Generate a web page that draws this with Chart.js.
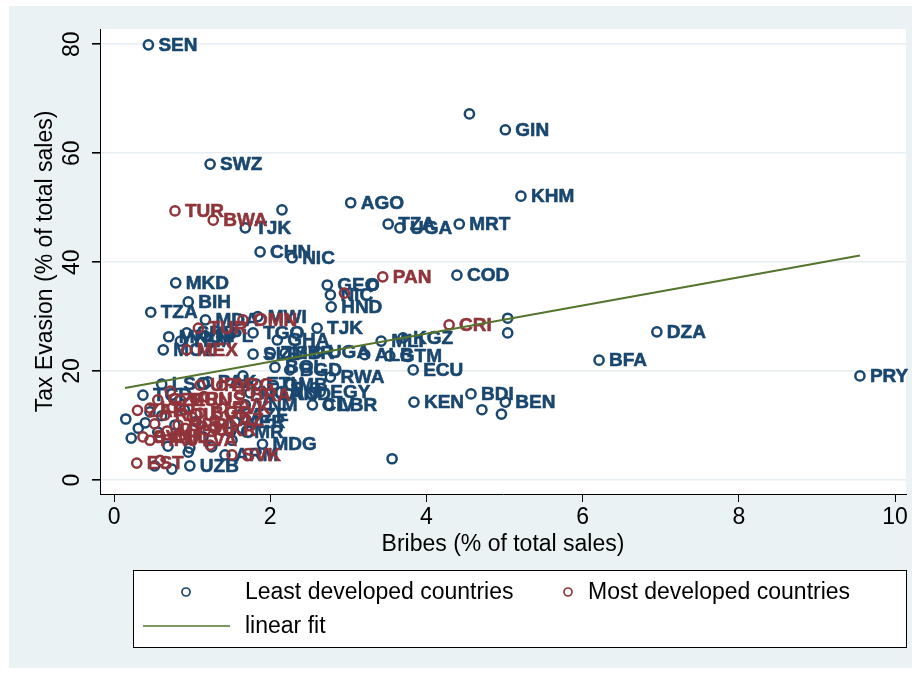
<!DOCTYPE html>
<html>
<head>
<meta charset="utf-8">
<script src="https://cdn.jsdelivr.net/npm/chart.js@4.4.0/dist/chart.umd.min.js"></script>
<style>
  html, body { margin: 0; padding: 0; background: #ffffff; }
  #wrap { width: 920px; height: 675px; }
</style>
</head>
<body>
<div id="wrap"><canvas id="chart" width="920" height="675"></canvas></div>
<script>
// Least developed countries: bribes vs tax evasion (% of total sales)
const ldcX = [0.44, 4.55, 5.01, 1.23, 5.21, 3.03, 2.15, 1.68, 3.51, 3.66,
              4.42, 1.87, 2.28, 4.39, 0.79, 2.73, 3.32, 2.77, 2.78, 2.60,
              0.95, 0.47, 5.04, 5.04, 6.95, 6.21, 9.55, 3.70, 3.42, 3.21,
              3.53, 3.83, 2.61, 2.77, 3.84, 4.57, 5.01, 4.71, 4.96, 3.56,
              1.90, 1.42, 0.97, 0.61, 1.17, 1.84, 0.70, 0.85, 0.93, 1.17,
              1.78, 2.09, 0.63, 1.78, 2.00, 2.19, 2.06, 2.25, 1.65, 1.82,
              2.04, 2.57, 2.64, 1.74, 1.99, 2.23, 1.68, 2.54, 2.74, 1.55,
              1.49, 0.15, 0.22, 0.37, 0.31, 0.40, 0.46, 0.56, 0.61, 0.69,
              0.78, 0.90, 0.97, 1.05, 1.14, 1.25, 1.38, 1.51, 1.64, 0.52,
              0.74, 0.95, 1.20, 1.62];
const ldcY = [79.9, 67.2, 64.3, 58.0, 52.1, 50.9, 49.6, 46.3, 47.0, 46.3,
              47.0, 41.9, 40.8, 37.6, 36.2, 35.8, 35.8, 34.0, 31.8, 27.9,
              32.7, 30.8, 29.7, 27.0, 27.2, 22.0, 19.1, 26.1, 25.5, 23.0,
              22.8, 20.2, 23.5, 18.9, 14.3, 15.8, 14.3, 12.9, 12.1, 3.9,
              6.6, 4.6, 2.6, 17.6, 29.4, 30.0, 26.3, 25.5, 27.0, 26.4,
              27.0, 25.7, 23.9, 23.1, 23.3, 23.3, 20.7, 20.2, 19.1, 17.6,
              17.4, 16.9, 16.2, 16.0, 15.8, 15.8, 13.8, 13.8, 13.8, 10.7,
              8.8, 11.2, 7.7, 15.6, 9.5, 10.5, 12.5, 8.8, 11.8, 6.2,
              10.1, 12.9, 5.9, 10.7, 7.9, 6.1, 9.2, 7.3, 9.5, 2.6,
              2.0, 5.1, 18.0, 12.0];
const ldcLab = ["SEN", "", "GIN", "SWZ", "KHM", "AGO", "", "TJK", "TZA", "UGA",
                "MRT", "CHN", "NIC", "COD", "MKD", "GEO", "", "NIC", "HND", "TJK",
                "BIH", "TZA", "", "", "DZA", "BFA", "PRY", "KGZ", "MLI", "ALB",
                "GTM", "ECU", "UGA", "RWA", "KEN", "BDI", "BEN", "", "", "",
                "MDG", "ARM", "UZB", "LSO", "MDA", "MWI", "MNG", "YEM", "SRB", "NPL",
                "TGO", "GHA", "MOZ", "SLE", "ZMB", "SYR", "BOL", "BGD", "", "ETH",
                "GMB", "", "EGY", "NGA", "LAO", "IND", "VNM", "CIV", "LBR", "NER",
                "CMR", "", "", "TCD", "", "", "", "", "", "",
                "", "", "", "", "", "", "", "", "", "",
                "", "", "PAK", "AZE"];

// Most developed countries
const mdcX = [0.78, 1.27, 3.44, 2.95, 4.29, 1.65, 1.08, 0.93, 1.38, 1.04,
              1.38, 0.91, 1.00, 0.29, 1.51, 0.46, 0.56, 0.85, 0.46, 0.65,
              1.10, 1.29, 0.82, 1.17, 0.37, 0.59, 1.23, 0.59, 1.61, 1.10,
              0.72, 0.30, 1.51, 0.68, 1.00, 0.75, 1.15, 0.52];
const mdcY = [49.4, 47.7, 37.3, 34.3, 28.5, 29.4, 27.9, 23.9, 17.4, 14.9,
              13.2, 9.5, 7.3, 3.1, 4.6, 7.3, 14.7, 14.7, 13.2, 11.9,
              12.3, 11.0, 10.1, 9.2, 7.9, 7.9, 6.4, 3.6, 15.6, 17.4,
              16.3, 12.8, 12.5, 9.0, 11.5, 13.3, 15.3, 10.3];
const mdcLab = ["TUR", "BWA", "PAN", "", "CRI", "OMN", "TUR", "MEX", "ARG", "RUS",
                "SVK", "POL", "LVA", "EST", "SVK", "HRV", "CZE", "HUN", "LTU", "ROU",
                "BGR", "KAZ", "BLR", "UKR", "SVN", "CHL", "", "", "BRA", "URY",
                "", "ZAF", "", "MYS", "", "", "", ""];

// Linear fit, drawn across the observed range of bribes
const fitX = [0.14, 9.55];
const fitY = [16.9, 41.2];

const xTicks = [0, 2, 4, 6, 8, 10];
const yTicks = [0, 20, 40, 60, 80];

const FONT = '"Liberation Sans", Arial, Helvetica, sans-serif';
const BLUE = '#1a476f';
const RED = '#90353b';
const GREEN = '#55752f';

const toPoints = (xs, ys) => xs.map((x, i) => ({ x: x, y: ys[i] }));

// Stata-like background: light outer region, white plot region
const backdrop = {
  id: 'backdrop',
  beforeDraw(chart) {
    const { ctx, chartArea: a } = chart;
    ctx.save();
    ctx.fillStyle = '#ffffff';
    ctx.fillRect(0, 0, chart.width, chart.height);
    ctx.fillStyle = '#eaf2f3';
    ctx.fillRect(9, 6, 903, 662);
    ctx.fillStyle = '#ffffff';
    ctx.fillRect(a.left, a.top, a.right - a.left, a.bottom - a.top);
    ctx.restore();
  }
};

// Marker labels written to the right of each point, in a heavy face
const pointLabels = {
  id: 'pointLabels',
  afterDatasetDraw(chart, args) {
    const ds = chart.data.datasets[args.index];
    if (!ds.pointText) return;
    const ctx = chart.ctx;
    ctx.save();
    ctx.font = 'bold 19px ' + FONT;
    ctx.fillStyle = ds.borderColor;
    ctx.strokeStyle = ds.borderColor;
    ctx.lineWidth = 0.6;
    ctx.lineJoin = 'round';
    ctx.textAlign = 'left';
    ctx.textBaseline = 'middle';
    args.meta.data.forEach((el, i) => {
      const t = ds.pointText[i];
      if (t) {
        ctx.fillText(t, el.x + 10, el.y + 1);
        ctx.strokeText(t, el.x + 10, el.y + 1);
      }
    });
    ctx.restore();
  }
};

// Boxed legend below the plot, two columns
const boxLegend = {
  id: 'boxLegend',
  afterDraw(chart) {
    const ctx = chart.ctx;
    const ds = chart.data.datasets;
    ctx.save();
    ctx.fillStyle = '#ffffff';
    ctx.fillRect(133, 570, 773, 77);
    ctx.strokeStyle = '#000000';
    ctx.lineWidth = 1;
    ctx.strokeRect(133.5, 570.5, 773, 77);
    ctx.font = '23px ' + FONT;
    ctx.textBaseline = 'middle';
    ctx.textAlign = 'left';
    const items = [
      { ds: ds[2], kind: 'marker', mx: 186, tx: 245, y: 592 },
      { ds: ds[1], kind: 'marker', mx: 568, tx: 588, y: 592 },
      { ds: ds[0], kind: 'line', mx: 143, tx: 245, y: 626 }
    ];
    items.forEach(it => {
      ctx.beginPath();
      if (it.kind === 'marker') {
        ctx.arc(it.mx, it.y, 4, 0, Math.PI * 2);
      } else {
        ctx.moveTo(it.mx, it.y);
        ctx.lineTo(it.mx + 87, it.y);
      }
      ctx.strokeStyle = it.ds.borderColor;
      ctx.lineWidth = 1.7;
      ctx.stroke();
      ctx.fillStyle = '#000000';
      ctx.fillText(it.ds.label, it.tx, it.y + 1);
    });
    ctx.restore();
  }
};

const markerStyle = {
  pointStyle: 'circle',
  pointRadius: 4.6,
  pointHoverRadius: 4.6,
  pointBorderWidth: 2.5,
  borderWidth: 2.5,
  backgroundColor: 'rgba(0,0,0,0)',
  pointBackgroundColor: 'rgba(0,0,0,0)',
  showLine: false
};

new Chart(document.getElementById('chart'), {
  type: 'scatter',
  data: {
    datasets: [
      {
        type: 'line',
        label: 'linear fit',
        data: toPoints(fitX, fitY),
        borderColor: GREEN,
        borderWidth: 2,
        pointRadius: 0,
        fill: false,
        order: 0
      },
      Object.assign({
        label: 'Most developed countries',
        data: toPoints(mdcX, mdcY),
        borderColor: RED,
        pointBorderColor: RED,
        pointText: mdcLab,
        order: 1
      }, markerStyle),
      Object.assign({
        label: 'Least developed countries',
        data: toPoints(ldcX, ldcY),
        borderColor: BLUE,
        pointBorderColor: BLUE,
        pointText: ldcLab,
        order: 2
      }, markerStyle)
    ]
  },
  options: {
    responsive: false,
    animation: false,
    devicePixelRatio: 1,
    events: [],
    layout: { padding: { left: 0, top: 29, right: 14, bottom: 111 } },
    plugins: {
      legend: { display: false },
      tooltip: { enabled: false }
    },
    scales: {
      x: {
        type: 'linear',
        min: -0.18,
        max: 10.14,
        afterBuildTicks: s => { s.ticks = xTicks.map(v => ({ value: v })); },
        afterFit: s => { s.height = 70; },
        ticks: {
          autoSkip: false,
          maxRotation: 0,
          padding: 2,
          color: '#000000',
          font: { family: FONT, size: 23 }
        },
        grid: {
          color: 'rgba(0,0,0,0)',
          tickColor: '#000000',
          tickLength: 8,
          lineWidth: 1
        },
        border: { display: true, color: '#000000', width: 1 },
        title: {
          display: true,
          text: 'Bribes (% of total sales)',
          color: '#000000',
          font: { family: FONT, size: 23 },
          padding: { top: 0, bottom: 6 }
        }
      },
      y: {
        type: 'linear',
        min: -2.57,
        max: 82.8,
        afterBuildTicks: s => { s.ticks = yTicks.map(v => ({ value: v })); },
        afterFit: s => { s.width = 100; },
        ticks: {
          autoSkip: false,
          minRotation: 90,
          maxRotation: 90,
          crossAlign: 'center',
          padding: 7,
          color: '#000000',
          font: { family: FONT, size: 23 }
        },
        grid: {
          color: '#e6eef1',
          lineWidth: 1.6,
          tickColor: '#000000',
          tickLength: 8
        },
        border: { display: true, color: '#000000', width: 1 },
        title: {
          display: true,
          text: 'Tax Evasion (% of total sales)',
          color: '#000000',
          font: { family: FONT, size: 23 },
          padding: { top: 32, bottom: 0 }
        }
      }
    }
  },
  plugins: [backdrop, pointLabels, boxLegend]
});
</script>
</body>
</html>
